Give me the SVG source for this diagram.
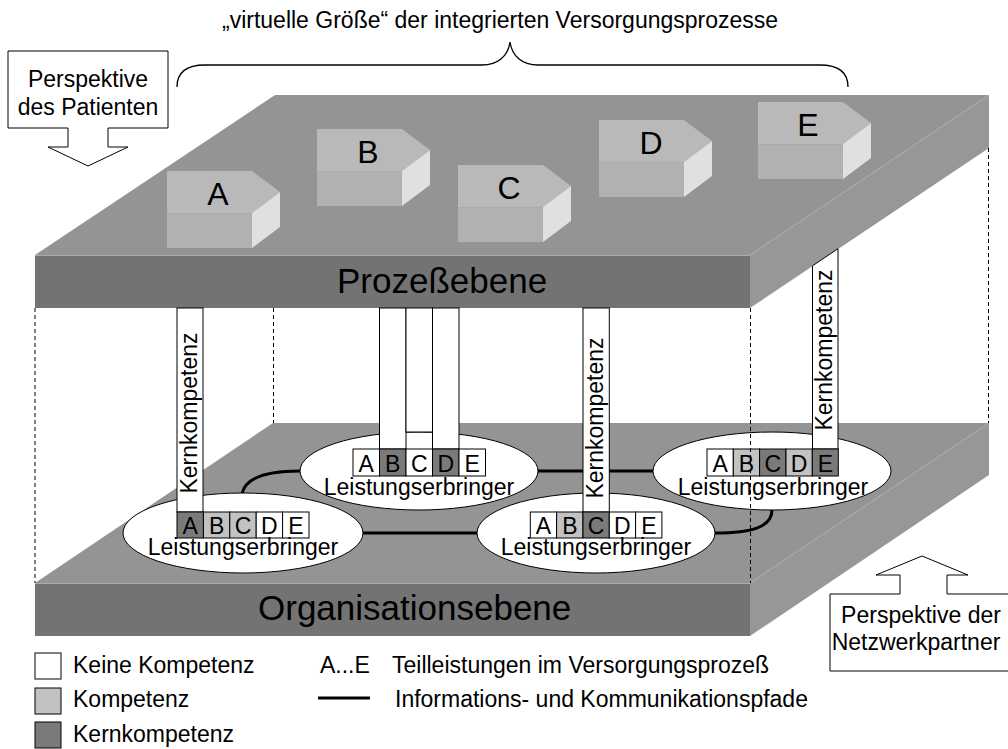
<svg xmlns="http://www.w3.org/2000/svg" width="1008" height="749" viewBox="0 0 1008 749">
<defs>
<style>
text{font-family:"Liberation Sans",Arial,sans-serif;fill:#000}
.t23{font-size:23px}
.lbl{font-size:35px}
.blk{font-size:32px;text-anchor:middle}
.mid{text-anchor:middle}
.topf{fill:#949494}
.front{fill:#737373}
.side{fill:#979797}
.edge{stroke:#ababab;stroke-width:1;fill:none}
.btop{fill:#b9b9b9}
.bfront{fill:#b1b1b1}
.bside{fill:#e0e0e0}
.dash{stroke:#000;stroke-width:1;stroke-dasharray:4 3;fill:none}
.path{stroke:#000;stroke-width:3;fill:none}
.ell{fill:#fff;stroke:#000;stroke-width:1}
.bar{fill:#fff;stroke:#000;stroke-width:1}
.c0{fill:#fff;stroke:#000;stroke-width:1}
.c1{fill:#c2c2c2;stroke:#000;stroke-width:1}
.c2{fill:#7a7a7a;stroke:#000;stroke-width:1}
.call{fill:#fff;stroke:#000;stroke-width:1}
</style>
</defs>
<rect width="1008" height="749" fill="#fff"/>

<!-- title + brace -->
<g id="title">
<text class="t23" x="222" y="28">„virtuelle Größe“ der integrierten Versorgungsprozesse</text>
<path d="M177,87 C177,72 186,65 205,65 L482,65 C498,65 508,56 510,42 C512,56 522,65 538,65 L820,65 C838,65 848,72 848,87" fill="none" stroke="#000" stroke-width="1.3"/>
</g>

<!-- Organisation level (bottom slab) -->
<g id="organisationsebene">
<polygon class="topf" points="273,423 989,423 750,583 35,583"/>
<polygon class="side" points="750,583 989,423 989,475 750,636"/>
<rect class="front" x="35" y="583" width="715" height="53"/>
<line class="edge" x1="35" y1="583.5" x2="750" y2="583.5"/>
<line class="edge" x1="750" y1="583" x2="989" y2="423"/>
<text class="lbl" x="258" y="620">Organisationsebene</text>
</g>

<!-- Process level (top slab) -->
<g id="prozessebene">
<polygon class="topf" points="275,95 989,95 750,255 35,255"/>
<polygon class="side" points="750,255 989,95 989,148 750,308"/>
<rect class="front" x="35" y="255" width="715" height="53"/>
<line class="edge" x1="35" y1="255.5" x2="750" y2="255.5"/>
<line class="edge" x1="750" y1="255" x2="989" y2="95"/>
<text class="lbl" x="337" y="293">Prozeßebene</text>
</g>

<!-- process blocks -->
<g id="block-A" transform="translate(167,171)">
<polygon class="btop" points="0,0 85,0 113,21 85,42 0,42"/>
<rect class="bfront" x="0" y="42" width="85" height="35"/>
<polygon class="bside" points="85,42 113,21 113,56 85,77"/>
<line class="edge" x1="0" y1="42.5" x2="85" y2="42.5" stroke="#c6c6c6"/>
<text class="blk" x="51" y="34">A</text>
</g>
<g id="block-B" transform="translate(317,129)">
<polygon class="btop" points="0,0 85,0 113,21 85,42 0,42"/>
<rect class="bfront" x="0" y="42" width="85" height="35"/>
<polygon class="bside" points="85,42 113,21 113,56 85,77"/>
<line class="edge" x1="0" y1="42.5" x2="85" y2="42.5" stroke="#c6c6c6"/>
<text class="blk" x="51" y="34">B</text>
</g>
<g id="block-C" transform="translate(458,165)">
<polygon class="btop" points="0,0 85,0 113,21 85,42 0,42"/>
<rect class="bfront" x="0" y="42" width="85" height="35"/>
<polygon class="bside" points="85,42 113,21 113,56 85,77"/>
<line class="edge" x1="0" y1="42.5" x2="85" y2="42.5" stroke="#c6c6c6"/>
<text class="blk" x="51" y="34">C</text>
</g>
<g id="block-D" transform="translate(599,120)">
<polygon class="btop" points="0,0 85,0 113,21 85,42 0,42"/>
<rect class="bfront" x="0" y="42" width="85" height="35"/>
<polygon class="bside" points="85,42 113,21 113,56 85,77"/>
<line class="edge" x1="0" y1="42.5" x2="85" y2="42.5" stroke="#c6c6c6"/>
<text class="blk" x="52" y="34">D</text>
</g>
<g id="block-E" transform="translate(758,102)">
<polygon class="btop" points="0,0 85,0 113,21 85,42 0,42"/>
<rect class="bfront" x="0" y="42" width="85" height="35"/>
<polygon class="bside" points="85,42 113,21 113,56 85,77"/>
<line class="edge" x1="0" y1="42.5" x2="85" y2="42.5" stroke="#c6c6c6"/>
<text class="blk" x="50" y="34">E</text>
</g>

<!-- connectors: information and communication paths -->
<g id="connectors">
<path class="path" d="M242,494 C245,478 266,471 300,471"/>
<line class="path" x1="362" y1="533" x2="477" y2="533"/>
<line class="path" x1="538" y1="471" x2="653" y2="471"/>
<path class="path" d="M715,533 C752,533 772,527 772,510"/>
</g>

<!-- provider 1 -->
<g id="provider-1">
<ellipse class="ell" cx="243" cy="533" rx="120" ry="40"/>
<rect class="bar" x="177" y="308" width="26" height="204"/>
<text class="t23 mid" transform="translate(197,413) rotate(-90)">Kernkompetenz</text>
<rect class="c2" x="177" y="512" width="26.4" height="26"/>
<rect class="c1" x="203.4" y="512" width="26.4" height="26"/>
<rect class="c1" x="229.8" y="512" width="26.4" height="26"/>
<rect class="c0" x="256.2" y="512" width="26.4" height="26"/>
<rect class="c0" x="282.6" y="512" width="26.4" height="26"/>
<text class="t23 mid" x="190.2" y="534">A</text>
<text class="t23 mid" x="216.6" y="534">B</text>
<text class="t23 mid" x="243" y="534">C</text>
<text class="t23 mid" x="269.4" y="534">D</text>
<text class="t23 mid" x="295.8" y="534">E</text>
<text class="t23 mid" x="243" y="555">Leistungserbringer</text>
</g>

<!-- provider 2 -->
<g id="provider-2">
<ellipse class="ell" cx="419" cy="471" rx="119" ry="39"/>
<rect class="bar" x="379.5" y="308" width="26.5" height="141"/>
<rect class="bar" x="406" y="308" width="26.5" height="124"/>
<rect class="bar" x="432.5" y="308" width="26.5" height="141"/>
<rect class="c0" x="353" y="449" width="26.5" height="27"/>
<rect class="c2" x="379.5" y="449" width="26.5" height="27"/>
<rect class="c0" x="406" y="449" width="26.5" height="27"/>
<rect class="c2" x="432.5" y="449" width="26.5" height="27"/>
<rect class="c0" x="459" y="449" width="26.5" height="27"/>
<text class="t23 mid" x="366.2" y="472">A</text>
<text class="t23 mid" x="392.7" y="472">B</text>
<text class="t23 mid" x="419.2" y="472">C</text>
<text class="t23 mid" x="445.7" y="472">D</text>
<text class="t23 mid" x="472.2" y="472">E</text>
<text class="t23 mid" x="419" y="495">Leistungserbringer</text>
</g>

<!-- provider 3 -->
<g id="provider-3">
<ellipse class="ell" cx="596" cy="533" rx="119" ry="40"/>
<rect class="bar" x="583" y="308" width="26.3" height="204"/>
<text class="t23 mid" transform="translate(603,418) rotate(-90)">Kernkompetenz</text>
<rect class="c0" x="530.3" y="512" width="26.3" height="26"/>
<rect class="c1" x="556.6" y="512" width="26.3" height="26"/>
<rect class="c2" x="583" y="512" width="26.3" height="26"/>
<rect class="c0" x="609.3" y="512" width="26.3" height="26"/>
<rect class="c0" x="635.6" y="512" width="26.3" height="26"/>
<text class="t23 mid" x="543.4" y="534">A</text>
<text class="t23 mid" x="569.8" y="534">B</text>
<text class="t23 mid" x="596.1" y="534">C</text>
<text class="t23 mid" x="622.4" y="534">D</text>
<text class="t23 mid" x="648.8" y="534">E</text>
<text class="t23 mid" x="596" y="555">Leistungserbringer</text>
</g>

<!-- provider 4 -->
<g id="provider-4">
<ellipse class="ell" cx="772" cy="471" rx="119" ry="39"/>
<polygon class="bar" points="812.5,265.8 838,248.7 838,449 812.5,449"/>
<text class="t23 mid" transform="translate(832,350) rotate(-90)">Kernkompetenz</text>
<rect class="c0" x="707" y="449" width="26.3" height="27"/>
<rect class="c1" x="733.3" y="449" width="26.3" height="27"/>
<rect class="c2" x="759.6" y="449" width="26.3" height="27"/>
<rect class="c1" x="786" y="449" width="26.3" height="27"/>
<rect class="c2" x="812.3" y="449" width="26" height="27"/>
<text class="t23 mid" x="720.1" y="472">A</text>
<text class="t23 mid" x="746.5" y="472">B</text>
<text class="t23 mid" x="772.8" y="472">C</text>
<text class="t23 mid" x="799.1" y="472">D</text>
<text class="t23 mid" x="825.3" y="472">E</text>
<text class="t23 mid" x="773" y="495">Leistungserbringer</text>
</g>

<!-- dashed vertical edges of the virtual box -->
<g id="guides">
<line class="dash" x1="35" y1="308" x2="35" y2="583"/>
<line class="dash" x1="273.5" y1="308" x2="273.5" y2="423"/>
<line class="dash" x1="750.5" y1="308" x2="750.5" y2="583"/>
<line class="dash" x1="988.5" y1="148" x2="988.5" y2="423"/>
</g>

<!-- perspective callouts -->
<g id="perspektive-patient">
<path class="call" d="M8,51 L168,51 L168,128 L108,128 L108,147 L128,147 L88,166 L48,147 L68,147 L68,128 L8,128 Z"/>
<text class="t23 mid" x="88" y="87">Perspektive</text>
<text class="t23 mid" x="88" y="115">des Patienten</text>
</g>
<g id="perspektive-netzwerk">
<path class="call" d="M830,594 L900,594 L900,575 L876,575 L922,556 L968,575 L947,575 L947,594 L1014,594 L1014,671 L830,671 Z"/>
<text class="t23 mid" x="921" y="623">Perspektive der</text>
<text class="t23 mid" x="916" y="650">Netzwerkpartner</text>
</g>

<!-- legend -->
<g id="legend">
<rect class="c0" x="35" y="653" width="26" height="26"/>
<rect class="c1" x="35" y="688" width="26" height="26"/>
<rect class="c2" x="35" y="722" width="26" height="26"/>
<text class="t23" x="73" y="673">Keine Kompetenz</text>
<text class="t23" x="73" y="707">Kompetenz</text>
<text class="t23" x="73" y="742">Kernkompetenz</text>
<text class="t23" x="320" y="673">A...E</text>
<text class="t23" x="392" y="673">Teilleistungen im Versorgungsprozeß</text>
<line class="path" x1="318" y1="698" x2="370" y2="698"/>
<text class="t23" x="395" y="707">Informations- und Kommunikationspfade</text>
</g>
</svg>
